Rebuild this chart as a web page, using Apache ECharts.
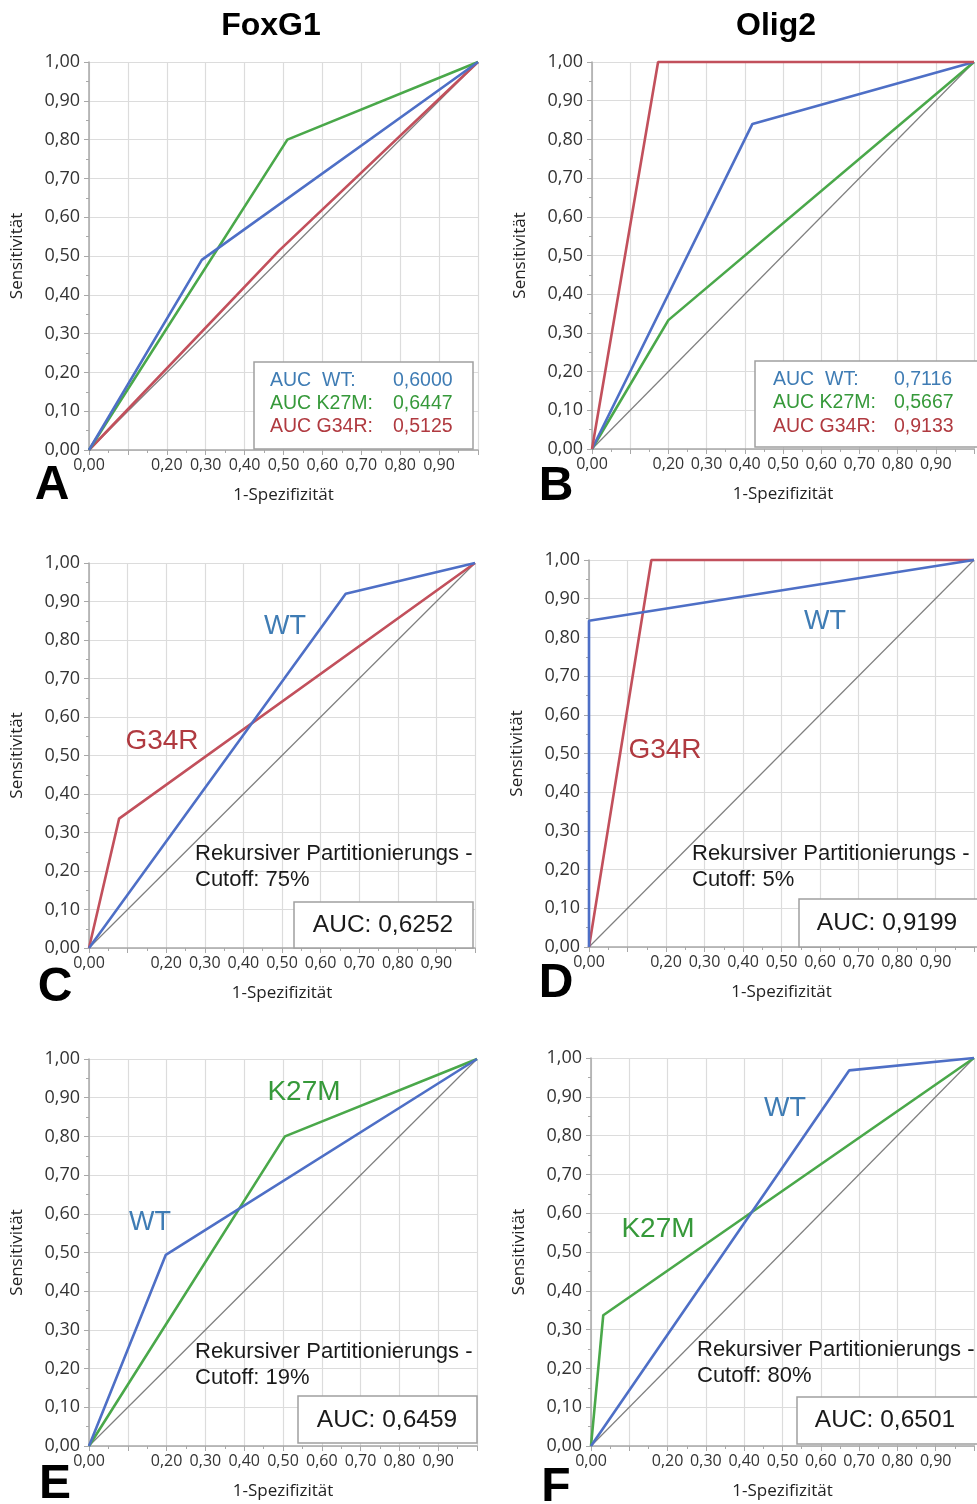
<!DOCTYPE html>
<html>
<head>
<meta charset="utf-8">
<script src="https://cdn.jsdelivr.net/npm/echarts/dist/echarts.min.js"></script>
<style>
  html, body { margin: 0; padding: 0; background: #ffffff; }
  #chart { width: 977px; height: 1504px; }
</style>
</head>
<body>
<div id="chart"></div>
<script>
// ROC curves: [1-Spezifität, Sensitivität] points per marker and comparison
const columnTitles = ['FoxG1', 'Olig2'];
const panelLetters = ['A', 'B', 'C', 'D', 'E', 'F'];

// A / B: all three groups
const foxg1AllWT   = [[0, 0], [0.29, 0.49], [1, 1]];
const foxg1AllK27M = [[0, 0], [0.51, 0.80], [1, 1]];
const foxg1AllG34R = [[0, 0], [0.49, 0.515], [1, 1]];
const olig2AllWT   = [[0, 0], [0.42, 0.84], [1, 1]];
const olig2AllK27M = [[0, 0], [0.20, 0.333], [1, 1]];
const olig2AllG34R = [[0, 0], [0.173, 1.00], [1, 1]];

// C / D: WT vs G34R
const foxg1G34rWT   = [[0, 0], [0.665, 0.92], [1, 1]];
const foxg1G34rG34R = [[0, 0], [0.078, 0.336], [1, 1]];
const olig2G34rWT   = [[0, 0], [0, 0.843], [1, 1]];
const olig2G34rG34R = [[0, 0], [0.162, 1.00], [1, 1]];

// E / F: WT vs K27M
const foxg1K27mWT   = [[0, 0], [0.198, 0.494], [1, 1]];
const foxg1K27mK27M = [[0, 0], [0.505, 0.80], [1, 1]];
const olig2K27mWT   = [[0, 0], [0.674, 0.968], [1, 1]];
const olig2K27mK27M = [[0, 0], [0.032, 0.337], [1, 1]];

const diagonal = [[0, 0], [1, 1]];

// AUC values
const aucGroupNames = ['AUC  WT:', 'AUC K27M:', 'AUC G34R:'];
const aucFoxg1All = ['0,6000', '0,6447', '0,5125'];
const aucOlig2All = ['0,7116', '0,5667', '0,9133'];
const aucPairs = ['0,6252', '0,9199', '0,6459', '0,6501'];
const cutoffs = ['75%', '5%', '19%', '80%'];

const C = {
  blue: '#4e6fc6', green: '#4aa84a', red: '#c2505c', diag: '#7f7f7f',
  tBlue: '#3f7cb4', tGreen: '#36993a', tRed: '#b03a40',
  grid: '#dcdcdc', axis: '#a8a8a8', box: '#a0a0a0', text: '#1a1a1a'
};
const SANS = '"Liberation Sans", Arial, sans-serif';
const TICKF = '"Open Sans", "Noto Sans", sans-serif';

const grids = [
  { left: 89,  top: 62,   width: 389, height: 388 },
  { left: 592, top: 62,   width: 384, height: 387 },
  { left: 89,  top: 563,  width: 386, height: 385 },
  { left: 589, top: 560,  width: 386, height: 387 },
  { left: 89,  top: 1059, width: 388, height: 387 },
  { left: 591, top: 1058, width: 384, height: 388 }
];

const panelSeries = [
  [[foxg1AllG34R, C.red], [foxg1AllK27M, C.green], [foxg1AllWT, C.blue]],
  [[olig2AllK27M, C.green], [olig2AllWT, C.blue], [olig2AllG34R, C.red]],
  [[foxg1G34rG34R, C.red], [foxg1G34rWT, C.blue]],
  [[olig2G34rG34R, C.red], [olig2G34rWT, C.blue]],
  [[foxg1K27mK27M, C.green], [foxg1K27mWT, C.blue]],
  [[olig2K27mK27M, C.green], [olig2K27mWT, C.blue]]
];

const fmt = v => v.toFixed(2).replace('.', ',');

const xAxes = [], yAxes = [], series = [];
grids.forEach((g, i) => {
  const common = {
    gridIndex: i, type: 'value', min: 0, max: 1, interval: 0.1,
    nameLocation: 'middle',
    nameTextStyle: { fontFamily: TICKF, fontSize: 17, color: '#222' },
    axisLine: { show: true, lineStyle: { color: C.axis, width: 1.5 } },
    axisTick: { show: true, length: 5, lineStyle: { color: C.axis } },
    minorTick: { show: true, splitNumber: 2, length: 3, lineStyle: { color: C.axis } },
    splitLine: { show: true, lineStyle: { color: C.grid, width: 1.2 } }
  };
  xAxes.push(Object.assign({}, common, {
    name: '1-Spezifizität', nameGap: 37,
    axisLabel: {
      fontFamily: TICKF, fontSize: 16, color: '#333', margin: 7,
      formatter: v => (Math.abs(v - 0.1) < 1e-6 || v > 0.999) ? '' : fmt(v)
    }
  }));
  yAxes.push(Object.assign({}, common, {
    name: 'Sensitivität', nameGap: 63,
    axisLabel: { fontFamily: TICKF, fontSize: 18, color: '#333', margin: 9, formatter: fmt }
  }));
  series.push({
    type: 'line', xAxisIndex: i, yAxisIndex: i, data: diagonal,
    symbol: 'none', silent: true, clip: false,
    lineStyle: { color: C.diag, width: 1.2 }
  });
  panelSeries[i].forEach(([data, color]) => {
    series.push({
      type: 'line', xAxisIndex: i, yAxisIndex: i, data: data,
      symbol: 'none', clip: false,
      lineStyle: { color: color, width: 2.6 }
    });
  });
});

const graphic = [];
const txt = (x, y, text, size, color, opts) => graphic.push(Object.assign({
  type: 'text', x: x, y: y, z: 100,
  style: Object.assign({
    text: text, fontFamily: SANS, fontSize: size, fill: color,
    align: 'left', verticalAlign: 'middle'
  }, opts || {})
}));
const box = (x1, y1, x2, y2) => graphic.push({
  type: 'rect', z: 90,
  shape: { x: x1, y: y1, width: x2 - x1, height: y2 - y1 },
  style: { fill: '#ffffff', stroke: C.box, lineWidth: 1.5 }
});

// column titles
txt(271, 26, columnTitles[0], 32, '#000', { align: 'center', fontWeight: 'bold' });
txt(776, 26, columnTitles[1], 32, '#000', { align: 'center', fontWeight: 'bold' });

// panel letters
const letterPos = [[52, 486], [556, 487], [55, 988], [556, 984], [55, 1485], [556, 1488]];
letterPos.forEach((p, i) => txt(p[0], p[1], panelLetters[i], 48, '#000', { align: 'center', fontWeight: 'bold' }));

// AUC legends for the three-group panels
const aucColors = [C.tBlue, C.tGreen, C.tRed];
box(254, 362, 473, 449);
[381, 404, 427].forEach((y, k) => {
  txt(270, y, aucGroupNames[k], 19.5, aucColors[k]);
  txt(393, y, aucFoxg1All[k], 19.5, aucColors[k]);
});
box(755, 361, 990, 447);
[380, 403, 427].forEach((y, k) => {
  txt(773, y, aucGroupNames[k], 19.5, aucColors[k]);
  txt(894, y, aucOlig2All[k], 19.5, aucColors[k]);
});

// curve labels
txt(285, 627, 'WT', 27, C.tBlue, { align: 'center' });
txt(162, 741, 'G34R', 28, C.tRed, { align: 'center' });
txt(825, 622, 'WT', 27, C.tBlue, { align: 'center' });
txt(665, 750, 'G34R', 28, C.tRed, { align: 'center' });
txt(304, 1092, 'K27M', 28, C.tGreen, { align: 'center' });
txt(150, 1223, 'WT', 27, C.tBlue, { align: 'center' });
txt(785, 1109, 'WT', 27, C.tBlue, { align: 'center' });
txt(658, 1229, 'K27M', 28, C.tGreen, { align: 'center' });

// partitioning cutoff notes and AUC boxes for the two-group panels
const notes = [
  { x: 195, y1: 854, y2: 880, box: [294, 902, 473, 948], cx: 383, cy: 925 },
  { x: 692, y1: 854, y2: 880, box: [799, 899, 990, 947], cx: 887, cy: 923 },
  { x: 195, y1: 1352, y2: 1378, box: [298, 1396, 477, 1443], cx: 387, cy: 1420 },
  { x: 697, y1: 1350, y2: 1376, box: [797, 1397, 990, 1444], cx: 885, cy: 1420 }
];
notes.forEach((n, k) => {
  txt(n.x, n.y1, 'Rekursiver Partitionierungs -', 22, C.text);
  txt(n.x, n.y2, 'Cutoff: ' + cutoffs[k], 22, C.text);
  box(n.box[0], n.box[1], n.box[2], n.box[3]);
  txt(n.cx, n.cy, 'AUC: ' + aucPairs[k], 24.5, C.text, { align: 'center' });
});

const chart = echarts.init(document.getElementById('chart'), null, { renderer: 'canvas' });
chart.setOption({
  backgroundColor: '#ffffff',
  animation: false,
  grid: grids,
  xAxis: xAxes,
  yAxis: yAxes,
  series: series,
  graphic: graphic
});
</script>
</body>
</html>
